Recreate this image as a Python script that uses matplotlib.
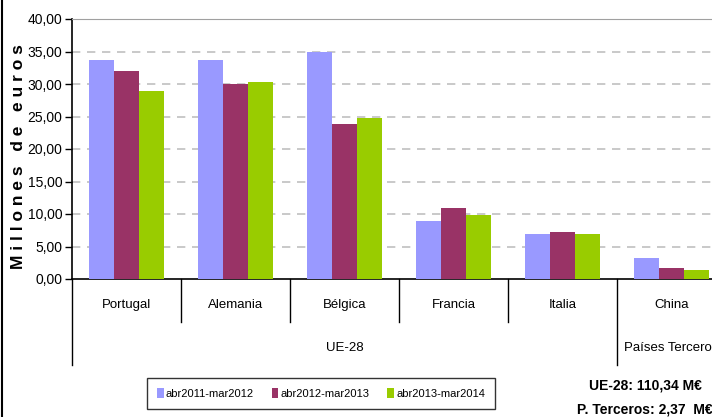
import matplotlib
matplotlib.use('Agg')
from matplotlib import pyplot as plt
from matplotlib.lines import Line2D
import matplotlib.transforms as mtransforms
import numpy as np

plt.rcParams['font.family'] = ['Liberation Sans', 'DejaVu Sans']

paises = ['Portugal', 'Alemania', 'Bélgica', 'Francia', 'Italia', 'China']
grupos = ['UE-28', 'Países Terceros']
periodos = ['abr2011-mar2012', 'abr2012-mar2013', 'abr2013-mar2014']

v_2011 = [33.7, 33.7, 34.9, 9.0, 7.0, 3.3]
v_2012 = [32.0, 30.0, 23.8, 11.0, 7.3, 1.7]
v_2013 = [29.0, 30.3, 24.7, 9.9, 6.9, 1.4]

colores = ['#9999ff', '#993366', '#99cc00']
yticks = [0, 5, 10, 15, 20, 25, 30, 35, 40]

fig = plt.figure(figsize=(7.12, 4.17), dpi=100)
ax = fig.add_axes([72/712, 1-279/417, 654/712, 260/417])

x = np.arange(len(paises))
w = 0.23
for i, vals in enumerate([v_2011, v_2012, v_2013]):
    ax.bar(x + (i-1)*w, vals, w, color=colores[i], label=periodos[i], zorder=3)

ax.set_xlim(-0.5, len(paises)-0.5)
ax.set_ylim(0, 40)
ax.set_yticks(yticks)
ax.set_yticklabels([('%.2f' % t).replace('.', ',') for t in yticks])
ax.tick_params(axis='y', direction='out', length=5, width=1, labelsize=10, pad=2)
for t in yticks[1:-1]:
    ax.axhline(t, color='#c0c0c0', lw=1.2, ls=(0, (5, 4)), zorder=1)

ax.spines['top'].set_color('#a0a0a0')
ax.spines['right'].set_visible(False)
ax.spines['left'].set_linewidth(1.2)
ax.spines['bottom'].set_linewidth(1.2)

ax.set_xticks([])
fig.text(19/712, 1-157/417, 'M i l l o n e s   d e   e u r o s', rotation=90,
         ha='center', va='center', fontsize=12.5, fontweight='bold')

trans = mtransforms.blended_transform_factory(ax.transData, ax.transAxes)
# etiquetas de paises y separadores
for i, p in enumerate(paises):
    ax.text(i, -0.1, p, transform=trans, ha='center', va='center', fontsize=9.5)
for xd in [0.5, 1.5, 2.5, 3.5]:
    ax.plot([xd, xd], [0, -0.165], transform=trans, color='black', lw=1, clip_on=False)
for xd in [-0.5, 4.5, 5.5]:
    ax.plot([xd, xd], [0, -0.33], transform=trans, color='black', lw=1, clip_on=False)
ax.text(2, -0.265, grupos[0], transform=trans, ha='center', va='center', fontsize=9.5)
ax.text(5, -0.265, grupos[1], transform=trans, ha='center', va='center', fontsize=9.5)

leg = fig.legend(loc='upper left', bbox_to_anchor=(147/712, 1-378/417), ncol=3,
                 fontsize=8, frameon=True, fancybox=False, edgecolor='black',
                 handlelength=0.6, handleheight=1.0, handletextpad=0.2,
                 columnspacing=1.6, borderpad=0.9, borderaxespad=0)
leg.get_frame().set_linewidth(1)

fig.text(645/712, 1-385/417, 'UE-28: 110,34 M€', ha='center', va='center',
         fontsize=10, fontweight='bold')
fig.text(645/712, 1-410/417, 'P. Terceros: 2,37  M€', ha='center', va='center',
         fontsize=10, fontweight='bold')

fig.add_artist(Line2D([2/712, 2/712], [0, 1], transform=fig.transFigure, color='black', lw=1.5))

fig.savefig('out.png', dpi=100)
